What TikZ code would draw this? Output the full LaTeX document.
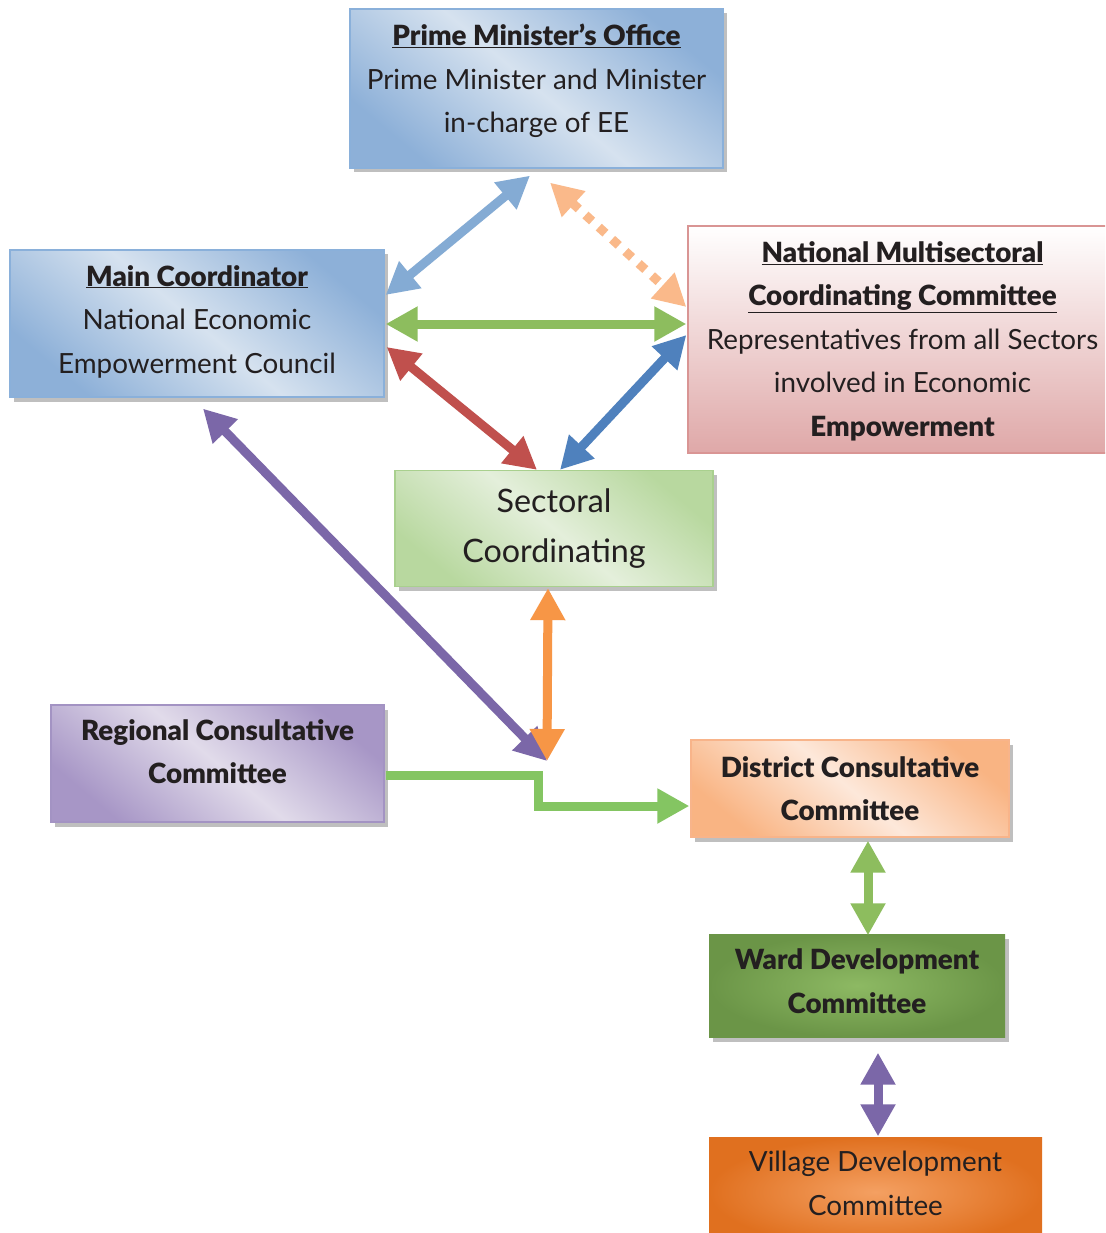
\documentclass[tikz,border=0pt]{standalone}
\usepackage{fontspec}
\setmainfont{Lato}[BoldFont={Lato Black}]
\usetikzlibrary{arrows.meta,shadows,calc}
\definecolor{txtc}{HTML}{231F20}
\definecolor{blueOut}{HTML}{8DB0D8}
\definecolor{blueMid}{HTML}{D6E2EF}
\definecolor{blueLine}{HTML}{8AB0DA}
\definecolor{pinkBot}{HTML}{DFA8A8}
\definecolor{pinkLine}{HTML}{D99594}
\definecolor{grnOut}{HTML}{B8D89F}
\definecolor{grnMid}{HTML}{E4EFDB}
\definecolor{grnLine}{HTML}{A9D08E}
\definecolor{purOut}{HTML}{A796C6}
\definecolor{purMid}{HTML}{E1DBEA}
\definecolor{purLine}{HTML}{A393C3}
\definecolor{peaOut}{HTML}{F9B483}
\definecolor{peaMid}{HTML}{FDE8DA}
\definecolor{peaLine}{HTML}{F8B48A}
\definecolor{wardIn}{HTML}{8DB963}
\definecolor{wardOut}{HTML}{6B9547}
\definecolor{vilIn}{HTML}{F4A062}
\definecolor{vilOut}{HTML}{E0701F}
\definecolor{aLtBlue}{HTML}{84ABD4}
\definecolor{aPeach}{HTML}{FAB98A}
\definecolor{aGreen}{HTML}{8DBD5E}
\definecolor{aRed}{HTML}{C0504D}
\definecolor{aBlue}{HTML}{4F81BD}
\definecolor{aPurple}{HTML}{7B67A8}
\definecolor{aOrange}{HTML}{F79646}
\definecolor{aLime}{HTML}{84C562}
\tikzset{
  boxbase/.style={rectangle, inner sep=0pt, line width=1.3pt},
  shad/.style={drop shadow={shadow xshift=3.5pt,shadow yshift=-4.5pt,opacity=0.25,fill=black}},
  bandfill/.style 2 args={left color=#1, right color=#1, middle color=#2, shading angle=-40},
  txt/.style={align=center, text=txtc, inner sep=0pt, font=\fontsize{27.8}{43.5}\selectfont},
  bigtxt/.style={align=center, text=txtc, inner sep=0pt, font=\fontsize{32.3}{50}\selectfont},
  twoway/.style={line width=9pt, {Triangle[length=32pt,width=33pt]}-{Triangle[length=32pt,width=33pt]}},
  oneway/.style={line width=9pt, -{Triangle[length=32pt,width=33pt]}}
}
\begin{document}
\begin{tikzpicture}[x=1pt,y=-1pt]
\clip (0,0) rectangle (1105,1233);
\fill[white] (0,0) rectangle (1105,1233);

% boxes
\node[boxbase, shad, draw=blueLine, bandfill={blueOut}{blueMid}, minimum width=373pt, minimum height=159pt] (pmo) at (536.5,88.5) {};
\node[boxbase, shad, draw=blueLine, bandfill={blueOut}{blueMid}, minimum width=374pt, minimum height=147pt] (mc) at (197,323.5) {};
\node[boxbase, draw=pinkLine, top color=white, bottom color=pinkBot, minimum width=430pt, minimum height=227pt] (nmcc) at (903,339.5) {};
\node[boxbase, shad, draw=grnLine, bandfill={grnOut}{grnMid}, minimum width=318pt, minimum height=116pt] (sec) at (554,528.5) {};
\node[boxbase, shad, draw=purLine, bandfill={purOut}{purMid}, minimum width=333pt, minimum height=117pt] (reg) at (217.5,763.5) {};
\node[boxbase, shad, draw=peaLine, bandfill={peaOut}{peaMid}, minimum width=318pt, minimum height=97pt] (dist) at (850,788.5) {};
\node[boxbase, shad, inner color=wardIn, outer color=wardOut, minimum width=296pt, minimum height=103pt] (ward) at (857,985.5) {};
\node[boxbase, inner color=vilIn, outer color=vilOut, minimum width=333pt, minimum height=110pt] (vil) at (875.5,1192) {};

% texts
\node[txt] (pmot) at ([yshift=7.5pt]pmo.center) {\underline{\textbf{Prime Minister’s Office}}\\Prime Minister and Minister\\in-charge of EE};
\node[txt] (mct) at ([yshift=2pt]mc.center) {\underline{\textbf{Main Coordinator}}\\National Economic\\Empowerment Council};
\node[txt] (nmcct) at ([xshift=-0.5pt,yshift=-1.5pt]nmcc.center) {\underline{\textbf{National Multisectoral}}\\\underline{\textbf{Coordinating Committee}}\\Representatives from all Sectors\\involved in Economic\\\textbf{Empowerment}};
\node[bigtxt] (sect) at (sec.center) {Sectoral\\Coordinating};
\node[txt] (regt) at ([yshift=12pt]reg.center) {\textbf{Regional Consultative}\\\textbf{Committee}};
\node[txt] (distt) at (dist.center) {\textbf{District Consultative}\\\textbf{Committee}};
\node[txt] (wardt) at ([yshift=4.5pt]ward.center) {\textbf{Ward Development}\\\textbf{Committee}};
\node[txt] (vilt) at ([yshift=8.5pt]vil.center) {Village Development\\Committee};

% connectors
\coordinate (meet) at (547,761);
\coordinate (bend) at (538,790);
\draw[twoway, aLtBlue] ([xshift=-6.5pt,yshift=-7pt]pmo.south) -- ([xshift=1pt,yshift=28.5pt]mc.east);
\draw[twoway, aPeach, dash pattern=on 9pt off 9pt] ([xshift=13.5pt,yshift=-14pt]pmo.south) -- ([xshift=-1pt,yshift=32.5pt]nmcc.west);
\draw[twoway, aGreen] ([xshift=1pt,yshift=-0.5pt]mc.east) -- ([xshift=-1pt,yshift=15.5pt]nmcc.west);
\draw[twoway, aRed] ([xshift=2pt,yshift=-23.5pt]mc.east) -- ([xshift=-17pt]sec.north);
\draw[twoway, aBlue] ([xshift=-1pt,yshift=4.5pt]nmcc.west) -- ([xshift=6pt]sec.north);
\draw[twoway, aPurple] ([xshift=6pt,yshift=-11pt]mc.south) -- (meet);
\draw[twoway, aOrange] ([xshift=-6pt,yshift=-1pt]sec.south) -- (meet);
\draw[oneway, aLime, line join=miter] ([xshift=1pt,yshift=-11.5pt]reg.east) -| (bend) |- ([xshift=-1pt,yshift=-17.5pt]dist.west);
\draw[twoway, aGreen] ([xshift=18pt,yshift=-3pt]dist.south) -- ([xshift=11pt,yshift=-2pt]ward.north);
\draw[twoway, aPurple] ([xshift=21pt,yshift=-15pt]ward.south) -- ([xshift=2.5pt]vil.north);
\end{tikzpicture}
\end{document}
